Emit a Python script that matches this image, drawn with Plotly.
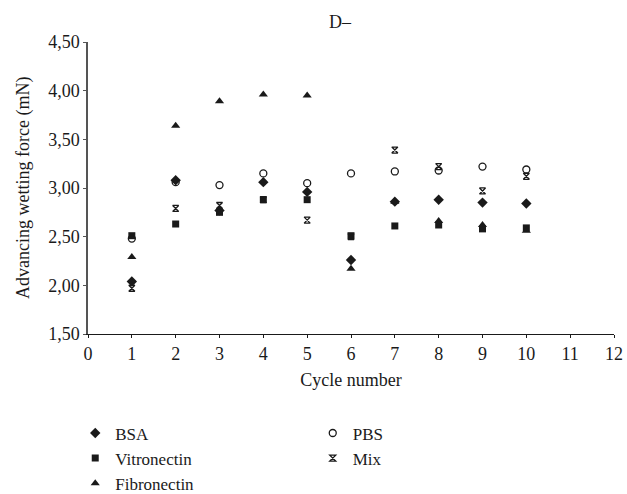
import plotly.graph_objects as go

cycles = [1, 2, 3, 4, 5, 6, 7, 8, 9, 10]
bsa = [2.04, 3.08, 2.77, 3.06, 2.96, 2.26, 2.86, 2.88, 2.85, 2.84]
vitronectin = [2.51, 2.63, 2.75, 2.88, 2.88, 2.51, 2.61, 2.62, 2.58, 2.59]
fibronectin = [2.29, 3.64, 3.89, 3.96, 3.95, 2.17, 2.86, 2.66, 2.62, 2.56]
pbs = [2.48, 3.06, 3.03, 3.15, 3.05, 3.15, 3.17, 3.18, 3.22, 3.19]
mix = [1.97, 2.79, 2.82, 2.88, 2.67, 2.50, 3.39, 3.22, 2.97, 3.12]

x_ticks = list(range(0, 13))
y_ticks = [1.5, 2.0, 2.5, 3.0, 3.5, 4.0, 4.5]
y_tick_labels = ["1,50", "2,00", "2,50", "3,00", "3,50", "4,00", "4,50"]

FONT = "Liberation Serif"
BLACK = "#1a1a1a"

series = [
    ("BSA", bsa, "diamond", 8, "legend"),
    ("Vitronectin", vitronectin, "square", 7, "legend"),
    ("Fibronectin", fibronectin, "triangle-up", 8, "legend"),
    ("PBS", pbs, "circle-open", 7, "legend2"),
    ("Mix", mix, "hourglass-open", 6, "legend2"),
]

fig = go.Figure()
for name, vals, sym, size, leg in series:
    fig.add_trace(go.Scatter(
        x=cycles, y=vals, mode="markers", name=name, legend=leg,
        marker=dict(symbol=sym, size=size, color=BLACK,
                    line=dict(color=BLACK, width=1.3 if "open" in sym else 0)),
    ))

fig.update_layout(
    width=627, height=494,
    margin=dict(l=88, r=13, t=42, b=160, autoexpand=False),
    paper_bgcolor="white", plot_bgcolor="white",
    font=dict(family=FONT, size=18, color=BLACK),
    showlegend=True,
    legend=dict(xref="container", yref="container", x=0.12, y=0.159,
                xanchor="left", yanchor="top", orientation="v",
                font=dict(family=FONT, size=17, color=BLACK),
                itemwidth=30, tracegroupgap=0, bgcolor="rgba(0,0,0,0)"),
    legend2=dict(xref="container", yref="container", x=0.4988, y=0.159,
                 xanchor="left", yanchor="top", orientation="v",
                 font=dict(family=FONT, size=17, color=BLACK),
                 itemwidth=30, tracegroupgap=0, bgcolor="rgba(0,0,0,0)"),
    annotations=[
        dict(text="D–", xref="paper", yref="paper", x=0.48, y=1.0,
             yshift=20, xanchor="center", yanchor="middle", showarrow=False,
             font=dict(family=FONT, size=18, color=BLACK)),
        dict(text="Advancing wetting force (mN)", xref="paper", yref="paper",
             x=-0.1236, y=0.5, xanchor="center", yanchor="middle", textangle=-90,
             showarrow=False, font=dict(family=FONT, size=18, color=BLACK)),
    ],
)

fig.update_xaxes(
    range=[0, 12], tickvals=x_ticks, ticktext=[str(t) for t in x_ticks],
    showgrid=False, zeroline=False, showline=True, linecolor=BLACK, linewidth=1.3,
    ticks="outside", ticklen=3, tickcolor=BLACK, tickfont=dict(size=18),
    ticklabeloverflow="allow",
    title=dict(text="Cycle number", font=dict(size=18), standoff=10),
)
fig.update_yaxes(
    range=[1.5, 4.5], tickvals=y_ticks, ticktext=y_tick_labels,
    showgrid=False, zeroline=False, showline=True, linecolor="#555555", linewidth=1.5,
    ticks="outside", ticklen=3, tickcolor="#555555", tickfont=dict(size=18),
    ticklabeloverflow="allow",
)

fig.write_html("out.html", config={"displayModeBar": False},
               post_script="document.body.style.margin='0';")
